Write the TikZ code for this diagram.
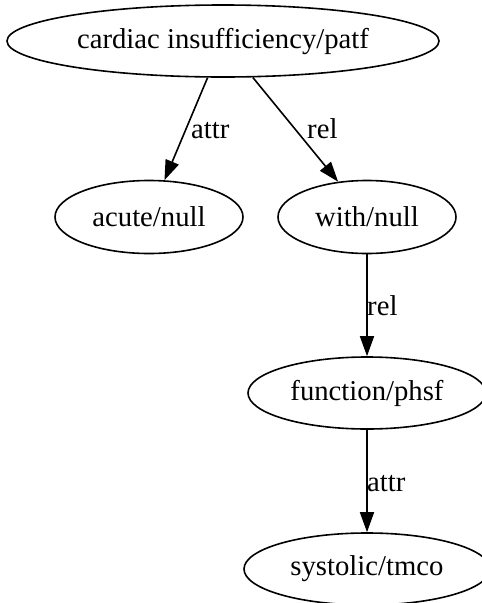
\documentclass[tikz,border=0pt]{standalone}
\usepackage{fontspec}
\setmainfont{Liberation Serif}
\usetikzlibrary{arrows.meta,shapes.geometric}
\begin{document}
\begin{tikzpicture}[x=1pt,y=-1pt,
  every node/.style={font=\fontsize{28.7}{32}\selectfont},
  ent/.style={draw,ellipse,line width=1.6pt,inner sep=0pt},
  edge/.style={line width=1.6pt,-{Triangle[length=20pt,width=14pt]}},
  lbl/.style={anchor=base west,inner sep=0pt}]
\useasboundingbox (0,0) rectangle (482,603);
% entity ellipses
\node[ent,minimum width=432pt,minimum height=72pt] (card) at (223,41) {cardiac insufficiency/patf};
\node[ent,minimum width=188pt,minimum height=73pt] (acute) at (149,217) {acute/null};
\node[ent,minimum width=178pt,minimum height=73pt] (with) at (367,217) {with/null};
\node[ent,minimum width=238pt,minimum height=72pt] (func) at (367,393) {function/phsf};
\node[ent,minimum width=246pt,minimum height=72pt] (syst) at (367,569) {systolic/tmco};
% relations
\draw[edge] (card) -- (acute);
\draw[edge] (card) -- (with);
\draw[edge] (with) -- (func);
\draw[edge] (func) -- (syst);
% edge labels
\node[lbl] (l1) at (191,138) {attr};
\node[lbl] (l2) at (307,138) {rel};
\node[lbl] (l3) at (367,315) {rel};
\node[lbl] (l4) at (367,491) {attr};
\end{tikzpicture}
\end{document}
